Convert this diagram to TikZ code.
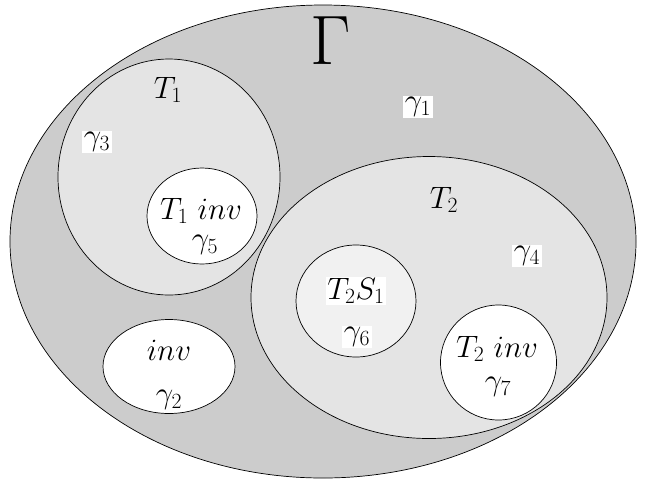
\RequirePackage{fix-cm}
\documentclass[tikz,border=0pt]{standalone}
\usepackage{tikz}
\begin{document}
\begin{tikzpicture}[x=1pt,y=-1pt,
  reg/.style={draw=black,line width=0.7pt},
  lbl/.style={inner sep=1.5pt,font=\fontsize{31}{36}\selectfont},
  wlbl/.style={lbl,fill=white}]
\useasboundingbox (0,0) rectangle (647,483);
\definecolor{outergray}{gray}{0.80}
\definecolor{midgray}{gray}{0.895}
\definecolor{lightgray2}{gray}{0.945}
% regions
\draw[reg,fill=outergray] (323,241.5) ellipse [x radius=313, y radius=236.5];
\draw[reg,fill=midgray] (169,177) ellipse [x radius=111, y radius=118];
\draw[reg,fill=midgray] (429,297.5) ellipse [x radius=178, y radius=141];
\draw[reg,fill=white] (202,216) ellipse [x radius=55, y radius=48];
\draw[reg,fill=white] (169,366.5) ellipse [x radius=66, y radius=47];
\draw[reg,fill=lightgray2] (356,301) ellipse [x radius=60, y radius=56];
\draw[reg,fill=white] (498.5,362.5) ellipse [x radius=58, y radius=57.5];
% labels
\node[inner sep=0pt,font=\fontsize{70}{76}\selectfont] (G) at (331,41) {$\Gamma$};
\node[wlbl] (g1) at (418,107) {$\gamma_1$};
\node[lbl] (T1) at (168,90) {$T_1$};
\node[wlbl] (g3) at (97,142) {$\gamma_3$};
\node[lbl] (T1inv) at (201,211) {$T_1\ inv$};
\node[lbl] (g5) at (205,245) {$\gamma_5$};
\node[lbl] (T2) at (444,200) {$T_2$};
\node[wlbl] (g4) at (527,256) {$\gamma_4$};
\node[wlbl] (T2S1) at (356,291) {$T_2S_1$};
\node[wlbl] (g6) at (357,337) {$\gamma_6$};
\node[lbl] (T2inv) at (497,349) {$T_2\ inv$};
\node[lbl] (g7) at (498,387) {$\gamma_7$};
\node[lbl] (inv) at (169,350) {$inv$};
\node[lbl] (g2) at (169,400) {$\gamma_2$};
\end{tikzpicture}
\end{document}
